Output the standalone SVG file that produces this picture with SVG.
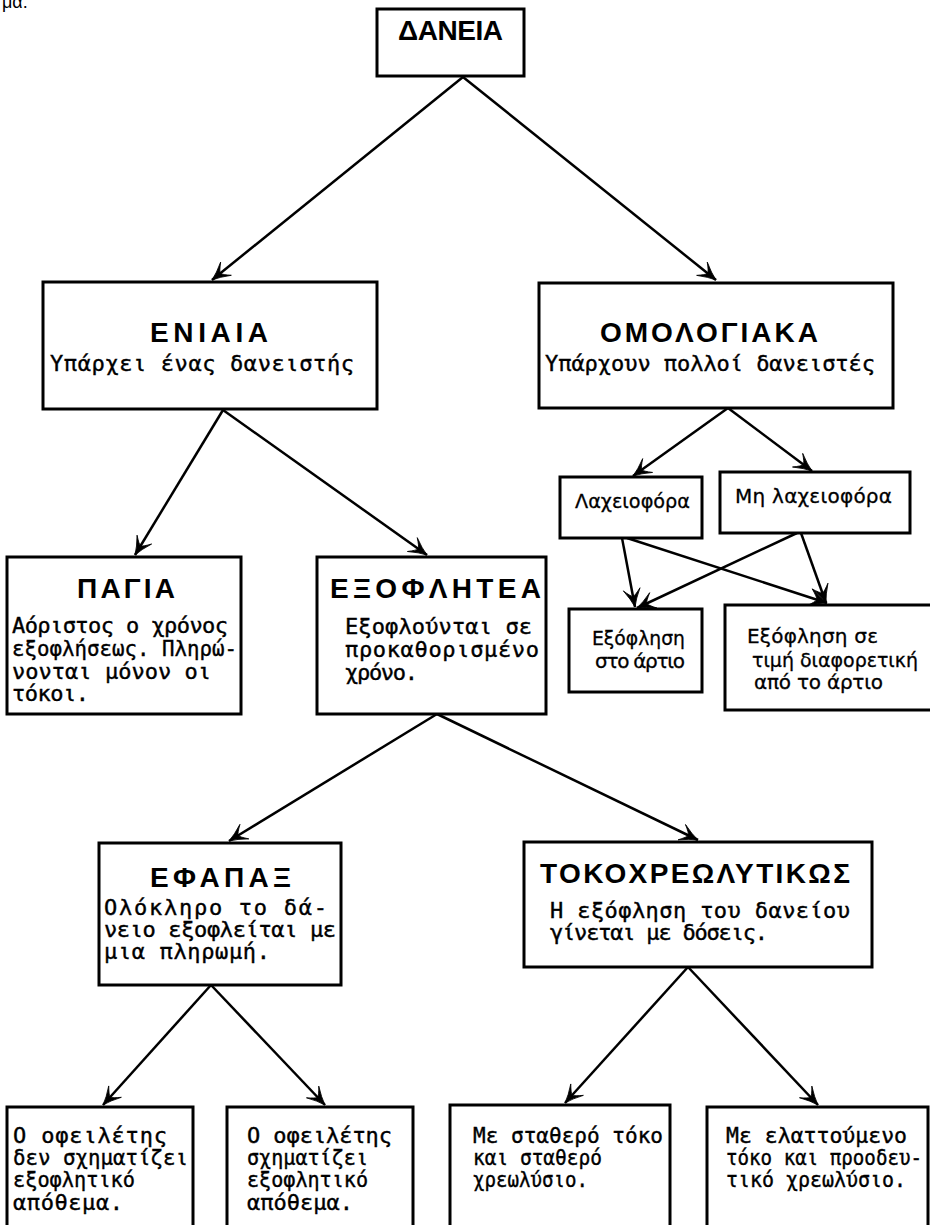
<svg xmlns="http://www.w3.org/2000/svg" width="930" height="1225" viewBox="0 0 930 1225">
<style>
.box{fill:#fff;stroke:#000;stroke-width:3}
.t{font-family:"Liberation Sans",Arial,sans-serif;font-weight:bold;font-size:28px;fill:#000}
.b{font-family:"DejaVu Sans Mono","Liberation Mono",monospace;font-size:22px;fill:#000;stroke:#000;stroke-width:0.4}
.s{font-family:"DejaVu Sans","Liberation Sans",sans-serif;font-size:20px;fill:#000;stroke:#000;stroke-width:0.3}
.c{stroke:#000;stroke-width:2.5;fill:none;marker-end:url(#ah)}
</style>
<defs>
<marker id="ah" markerUnits="userSpaceOnUse" viewBox="-20 -10 22 20" refX="0" refY="0" markerWidth="22" markerHeight="20" orient="auto">
<path d="M0,0 Q-8,-2.5 -18,-8.5 Q-11.5,-2.5 -10.5,0 Q-11.5,2.5 -18,8.5 Q-8,2.5 0,0 Z" fill="#000" stroke="#000" stroke-width="0.8"/>
</marker>
</defs>
<rect x="0" y="0" width="930" height="1225" fill="#fff"/>
<text x="2" y="8" font-family="Liberation Sans, Arial, sans-serif" font-size="18">μα.</text>

<g id="connectors">
<line class="c" x1="463" y1="77" x2="212" y2="280"/>
<line class="c" x1="463" y1="77" x2="716" y2="280"/>
<line class="c" x1="223" y1="410" x2="135" y2="555"/>
<line class="c" x1="223" y1="410" x2="427" y2="555"/>
<line class="c" x1="728" y1="408" x2="633" y2="476"/>
<line class="c" x1="728" y1="408" x2="812" y2="471"/>
<line class="c" x1="622" y1="538" x2="635" y2="607"/>
<line class="c" x1="627" y1="538" x2="827" y2="603"/>
<line class="c" x1="797" y1="533" x2="637" y2="608"/>
<line class="c" x1="801" y1="533" x2="826" y2="603"/>
<line class="c" x1="437" y1="714" x2="229" y2="841"/>
<line class="c" x1="437" y1="714" x2="698" y2="840"/>
<line class="c" x1="211" y1="985" x2="103" y2="1105"/>
<line class="c" x1="211" y1="985" x2="325" y2="1105"/>
<line class="c" x1="688" y1="967" x2="565" y2="1103"/>
<line class="c" x1="688" y1="967" x2="818" y2="1105"/>
</g>

<g id="daneia">
<rect class="box" x="377" y="9" width="147" height="67"/>
<text class="t" x="398" y="40" textLength="105" lengthAdjust="spacing">ΔΑΝΕΙΑ</text>
</g>

<g id="eniaia">
<rect class="box" x="43" y="282" width="334" height="127"/>
<text class="t" x="150" y="342" textLength="118" lengthAdjust="spacing">ΕΝΙΑΙΑ</text>
<text class="b" x="50" y="371" textLength="304" lengthAdjust="spacing">Υπάρχει ένας δανειστής</text>
</g>

<g id="omologiaka">
<rect class="box" x="539" y="283" width="354" height="125"/>
<text class="t" x="600" y="342" textLength="218" lengthAdjust="spacing">ΟΜΟΛΟΓΙΑΚΑ</text>
<text class="b" x="545" y="371" textLength="330" lengthAdjust="spacing">Υπάρχουν πολλοί δανειστές</text>
</g>

<g id="laxeiofora">
<rect class="box" x="560" y="477" width="142" height="61"/>
<text class="s" x="575" y="508" textLength="115" lengthAdjust="spacingAndGlyphs">Λαχειοφόρα</text>
</g>

<g id="mh-laxeiofora">
<rect class="box" x="720" y="472" width="190" height="61"/>
<text class="s" x="735" y="503" textLength="157" lengthAdjust="spacing">Μη λαχειοφόρα</text>
</g>

<g id="exoflisi-artio">
<rect class="box" x="569" y="609" width="133" height="83"/>
<text class="s" x="592" y="645" textLength="93" lengthAdjust="spacingAndGlyphs">Εξόφληση</text>
<text class="s" x="595" y="668" textLength="90" lengthAdjust="spacing">στο άρτιο</text>
</g>

<g id="exoflisi-diaforetiki">
<rect class="box" x="725" y="605" width="220" height="105"/>
<text class="s" x="747" y="643" textLength="131" lengthAdjust="spacing">Εξόφληση σε</text>
<text class="s" x="752" y="667" textLength="166" lengthAdjust="spacingAndGlyphs">τιμή διαφορετική</text>
<text class="s" x="754" y="689" textLength="129" lengthAdjust="spacing">από το άρτιο</text>
</g>

<g id="pagia">
<rect class="box" x="7" y="557" width="234" height="157"/>
<text class="t" x="77" y="598" textLength="98" lengthAdjust="spacing">ΠΑΓΙΑ</text>
<text class="b" x="12" y="633" textLength="216" lengthAdjust="spacing">Αόριστος ο χρόνος</text>
<text class="b" x="12" y="656" textLength="225" lengthAdjust="spacingAndGlyphs">εξοφλήσεως. Πληρώ-</text>
<text class="b" x="12" y="679" textLength="199" lengthAdjust="spacing">νονται μόνον οι</text>
<text class="b" x="12" y="701" textLength="77" lengthAdjust="spacing">τόκοι.</text>
</g>

<g id="exofliteia">
<rect class="box" x="317" y="557" width="229" height="157"/>
<text class="t" x="330" y="598" textLength="211" lengthAdjust="spacing">ΕΞΟΦΛΗΤΕΑ</text>
<text class="b" x="345" y="634" textLength="187" lengthAdjust="spacing">Εξοφλούνται σε</text>
<text class="b" x="345" y="657" textLength="194" lengthAdjust="spacing">προκαθορισμένο</text>
<text class="b" x="345" y="680" textLength="73" lengthAdjust="spacing">χρόνο.</text>
</g>

<g id="efapax">
<rect class="box" x="99" y="843" width="242" height="142"/>
<text class="t" x="150" y="887" textLength="141" lengthAdjust="spacing">ΕΦΑΠΑΞ</text>
<text class="b" x="104" y="915" textLength="223" lengthAdjust="spacing">Ολόκληρο το δά-</text>
<text class="b" x="104" y="937" textLength="232" lengthAdjust="spacing">νειο εξοφλείται με</text>
<text class="b" x="104" y="959" textLength="166" lengthAdjust="spacing">μια πληρωμή.</text>
</g>

<g id="tokoxreolytikos">
<rect class="box" x="524" y="842" width="348" height="125"/>
<text class="t" x="540" y="883" textLength="310" lengthAdjust="spacing">ΤΟΚΟΧΡΕΩΛΥΤΙΚΩΣ</text>
<text class="b" x="550" y="918" textLength="300" lengthAdjust="spacing">Η εξόφληση του δανείου</text>
<text class="b" x="550" y="940" textLength="218" lengthAdjust="spacing">γίνεται με δόσεις.</text>
</g>

<g id="den-sxhmatizei">
<rect class="box" x="7" y="1107" width="186" height="140"/>
<text class="b" x="13" y="1143" textLength="154" lengthAdjust="spacing">Ο οφειλέτης</text>
<text class="b" x="13" y="1165" textLength="175" lengthAdjust="spacingAndGlyphs">δεν σχηματίζει</text>
<text class="b" x="13" y="1187" textLength="122" lengthAdjust="spacingAndGlyphs">εξοφλητικό</text>
<text class="b" x="13" y="1210" textLength="110" lengthAdjust="spacing">απόθεμα.</text>
</g>

<g id="sxhmatizei">
<rect class="box" x="227" y="1107" width="186" height="140"/>
<text class="b" x="247" y="1143" textLength="145" lengthAdjust="spacing">Ο οφειλέτης</text>
<text class="b" x="247" y="1165" textLength="121" lengthAdjust="spacingAndGlyphs">σχηματίζει</text>
<text class="b" x="247" y="1187" textLength="121" lengthAdjust="spacingAndGlyphs">εξοφλητικό</text>
<text class="b" x="247" y="1210" textLength="106" lengthAdjust="spacing">απόθεμα.</text>
</g>

<g id="statheros">
<rect class="box" x="450" y="1105" width="220" height="140"/>
<text class="b" x="473" y="1143" textLength="190" lengthAdjust="spacingAndGlyphs">Με σταθερό τόκο</text>
<text class="b" x="473" y="1165" textLength="129" lengthAdjust="spacingAndGlyphs">και σταθερό</text>
<text class="b" x="473" y="1187" textLength="115" lengthAdjust="spacingAndGlyphs">χρεωλύσιο.</text>
</g>

<g id="elattoumenos">
<rect class="box" x="707" y="1107" width="221" height="140"/>
<text class="b" x="726" y="1143" textLength="181" lengthAdjust="spacingAndGlyphs">Με ελαττούμενο</text>
<text class="b" x="726" y="1165" textLength="196" lengthAdjust="spacingAndGlyphs">τόκο και προοδευ-</text>
<text class="b" x="726" y="1187" textLength="180" lengthAdjust="spacingAndGlyphs">τικό χρεωλύσιο.</text>
</g>
</svg>
